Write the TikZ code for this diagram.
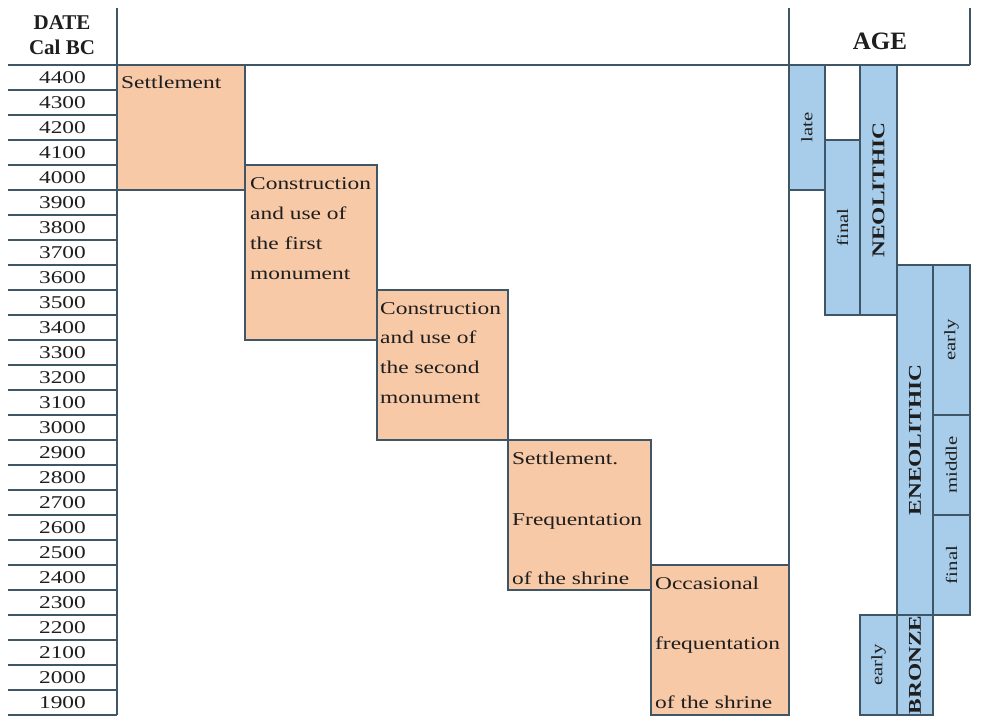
\documentclass[tikz,border=0pt]{standalone}
\usepackage{fontspec}
\setmainfont[FakeStretch=1.3]{Liberation Serif}
\newfontfamily\hdr{Liberation Serif}
\definecolor{edge}{RGB}{62,86,102}
\definecolor{orangefill}{RGB}{248,201,166}
\definecolor{bluefill}{RGB}{168,205,235}
\definecolor{ink}{RGB}{30,30,30}
\begin{document}
\begin{tikzpicture}[x=1pt,y=-1pt,
  frame/.style={draw=edge, line width=1.6pt},
  rowline/.style={draw=edge, line width=1.5pt},
  cell/.style={anchor=north west, inner sep=0pt, outer sep=0pt},
  obox/.style={cell, draw=edge, line width=1.6pt, fill=orangefill},
  bbox/.style={cell, draw=edge, line width=1.6pt, fill=bluefill},
  daterow/.style={cell, minimum width=109pt, minimum height=25pt, text=ink, font=\fontsize{18}{20}\selectfont},
  txt/.style={anchor=base west, inner sep=0pt, text=ink, font=\fontsize{18}{20}\selectfont},
  hdrtxt/.style={inner sep=0pt, text=ink, font=\hdr\bfseries\fontsize{21}{24}\selectfont},
  vsmall/.style={rotate=90, inner sep=0pt, text=ink, font=\fontsize{16}{18}\selectfont},
  vbig/.style={rotate=90, inner sep=0pt, text=ink, font=\bfseries\fontsize{18}{20}\selectfont}]
\useasboundingbox[fill=white] (0,0) rectangle (999,726);

% header cells
\node[cell, minimum width=109pt, minimum height=57pt] (datehdr) at (8,8) {};
\node[cell, minimum width=181pt, minimum height=57pt] (agehdr) at (789,8) {};
\node[hdrtxt] (tdate) at (62,23) {DATE};
\node[hdrtxt] (tcal) at (62,47) {Cal BC};
\node[hdrtxt, font=\hdr\bfseries\fontsize{25}{28}\selectfont] (tage) at (880,41) {AGE};

% orange phase boxes
\node[obox, minimum width=128pt, minimum height=125pt] (p1) at (117,65) {};
\node[obox, minimum width=132pt, minimum height=175pt] (p2) at (245,165) {};
\node[obox, minimum width=131pt, minimum height=150pt] (p3) at (377,290) {};
\node[obox, minimum width=143pt, minimum height=150pt] (p4) at (508,440) {};
\node[obox, minimum width=138pt, minimum height=150pt] (p5) at (651,565) {};

\node[txt] (p1a) at (121,88) {Settlement};
\node[txt] (p2a) at (250,189) {Construction};
\node[txt] (p2b) at (250,219) {and use of};
\node[txt] (p2c) at (250,249) {the first};
\node[txt] (p2d) at (250,279) {monument};
\node[txt] (p3a) at (380,314) {Construction};
\node[txt] (p3b) at (380,343) {and use of};
\node[txt] (p3c) at (380,373) {the second};
\node[txt] (p3d) at (380,403) {monument};
\node[txt] (p4a) at (512,464) {Settlement.};
\node[txt] (p4b) at (512,525) {Frequentation};
\node[txt] (p4c) at (512,584) {of the shrine};
\node[txt] (p5a) at (655,589) {Occasional};
\node[txt] (p5b) at (655,649) {frequentation};
\node[txt] (p5c) at (655,708) {of the shrine};

% blue age boxes
\node[bbox, minimum width=36pt, minimum height=125pt] (late) at (789,65) {};
\node[bbox, minimum width=35pt, minimum height=175pt] (nfinal) at (825,140) {};
\node[bbox, minimum width=37pt, minimum height=250pt] (neo) at (860,65) {};
\node[bbox, minimum width=36pt, minimum height=350pt] (eneo) at (897,265) {};
\node[bbox, minimum width=37pt, minimum height=150pt] (eearly) at (933,265) {};
\node[bbox, minimum width=37pt, minimum height=100pt] (emiddle) at (933,415) {};
\node[bbox, minimum width=37pt, minimum height=100pt] (efinal) at (933,515) {};
\node[bbox, minimum width=37pt, minimum height=100pt] (bearly) at (860,615) {};
\node[bbox, minimum width=36pt, minimum height=100pt] (bronze) at (897,615) {};

\node[vsmall] (tlate) at (late.center) {late};
\node[vsmall] (tnfinal) at (nfinal.center) {final};
\node[vbig] (tneo) at (neo.center) {NEOLITHIC};
\node[vbig] (teneo) at (eneo.center) {ENEOLITHIC};
\node[vsmall] (teearly) at (eearly.center) {early};
\node[vsmall] (temiddle) at (emiddle.center) {middle};
\node[vsmall] (tefinal) at (efinal.center) {final};
\node[vsmall] (tbearly) at (bearly.center) {early};
\node[vbig] (tbronze) at (bronze.center) {BRONZE};

% date rows
\foreach \i in {0,...,25}{
  \pgfmathtruncatemacro\yr{4400-100*\i}
  \node[daterow] (d\yr) at (8,{65+25*\i}) {\yr};
  \draw[rowline] (d\yr.south west) -- (d\yr.south east);
}

% frame lines
\draw[frame] (datehdr.south west) -- (agehdr.south east);
\draw[frame] (datehdr.north east) -- (d1900.south east);
\draw[frame] (agehdr.north west) -- (agehdr.north west |- d1900.south);
\draw[frame] (agehdr.north east) -- (agehdr.south east);
\end{tikzpicture}
\end{document}
